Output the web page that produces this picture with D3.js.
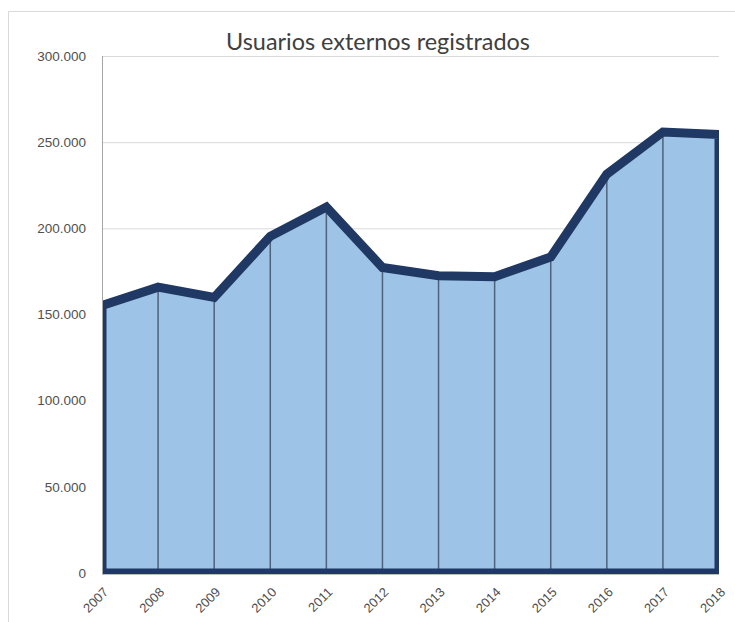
<!DOCTYPE html>
<html>
<head>
<meta charset="utf-8">
<script src="https://cdn.jsdelivr.net/npm/d3@7.9.0/dist/d3.min.js"></script>
<style>
  body { margin: 0; background: #fff; }
  svg { display: block; }
  text { font-family: "Liberation Sans", Arial, sans-serif; }
</style>
</head>
<body>
<div id="chart"></div>
<script>
// chart data
const title = "Usuarios externos registrados";
const years = ["2007", "2008", "2009", "2010", "2011", "2012", "2013", "2014", "2015", "2016", "2017", "2018"];
const users = [155300, 165900, 159900, 195400, 212400, 177300, 172500, 171900, 183400, 231500, 255900, 254500];
const yTicks = [0, 50000, 100000, 150000, 200000, 250000, 300000];

const width = 735;
const height = 622;

// plot area
const area = { left: 102, right: 719, top: 56, bottom: 573 };

const data = years.map((y, i) => ({ year: y, value: users[i] }));

const svg = d3.select("#chart")
  .append("svg")
  .attr("width", width)
  .attr("height", height);

// outer chart frame (runs off the right and bottom edges)
svg.append("rect")
  .attr("x", 8.5)
  .attr("y", 11.5)
  .attr("width", 760)
  .attr("height", 640)
  .attr("fill", "none")
  .attr("stroke", "#d9d9d9");

const x = d3.scalePoint()
  .domain(years)
  .range([area.left, area.right]);

const y = d3.scaleLinear()
  .domain([0, 300000])
  .range([area.bottom, area.top]);

const fmt = v => v === 0 ? "0" : d3.format(",")(v).replace(/,/g, ".");

// gridlines
svg.append("g")
  .attr("transform", `translate(${area.left},0)`)
  .call(d3.axisLeft(y).tickValues(yTicks).tickSize(-(area.right - area.left)).tickFormat(""))
  .call(g => g.select(".domain").remove())
  .call(g => g.selectAll("line").attr("stroke", "#d9d9d9"));

// y labels
svg.append("g")
  .attr("transform", `translate(${area.left},0)`)
  .call(d3.axisLeft(y).tickValues(yTicks).tickSize(0).tickPadding(16).tickFormat(fmt))
  .call(g => g.select(".domain").remove())
  .call(g => g.selectAll("text")
    .attr("fill", "#505050")
    .style("font-size", "13.5px")
    .style("font-family", "'Liberation Sans', Arial, sans-serif"));

// clip to plot area
svg.append("clipPath")
  .attr("id", "plot-clip")
  .append("rect")
  .attr("x", area.left)
  .attr("y", area.top - 10)
  .attr("width", area.right - area.left)
  .attr("height", area.bottom - area.top + 11);

const areaGen = d3.area()
  .x(d => x(d.year))
  .y0(y(0))
  .y1(d => y(d.value));

const plot = svg.append("g").attr("clip-path", "url(#plot-clip)");

plot.append("path")
  .datum(data)
  .attr("d", d => areaGen(d))
  .attr("fill", "#9dc3e6");

// drop lines
plot.append("g")
  .selectAll("line")
  .data(data.slice(1, -1))
  .join("line")
  .attr("x1", d => x(d.year))
  .attr("x2", d => x(d.year))
  .attr("y1", d => y(d.value))
  .attr("y2", y(0))
  .attr("stroke", "#3b4a5e")
  .attr("stroke-opacity", 0.8)
  .attr("stroke-width", 1.5);

// area outline
plot.append("path")
  .datum(data)
  .attr("d", d => areaGen(d))
  .attr("fill", "none")
  .attr("stroke", "#1f3864")
  .attr("stroke-width", 9)
  .attr("stroke-linejoin", "miter");

// axes lines
svg.append("line")
  .attr("x1", area.left + 0.5).attr("x2", area.left + 0.5)
  .attr("y1", area.top).attr("y2", area.bottom + 1)
  .attr("stroke", "#a6a6a6");

svg.append("line")
  .attr("x1", area.left).attr("x2", area.right)
  .attr("y1", area.bottom + 1.5).attr("y2", area.bottom + 1.5)
  .attr("stroke", "#bfbfbf");

// x labels, rotated
svg.append("g")
  .selectAll("text")
  .data(years)
  .join("text")
  .attr("transform", d => `translate(${x(d) + 7},${area.bottom + 20}) rotate(-45)`)
  .attr("text-anchor", "end")
  .attr("fill", "#505050")
  .style("font-size", "13px")
  .text(d => d);

// title, fitted to reference width
const t = svg.append("text")
  .attr("x", 378)
  .attr("y", 50)
  .attr("text-anchor", "middle")
  .attr("fill", "#404040")
  .style("font-family", "Lato, 'Open Sans', sans-serif")
  .style("font-size", "20px")
  .text(title);
const tw = t.node().getComputedTextLength();
t.style("font-size", (20 * 304 / tw).toFixed(2) + "px");
</script>
</body>
</html>
